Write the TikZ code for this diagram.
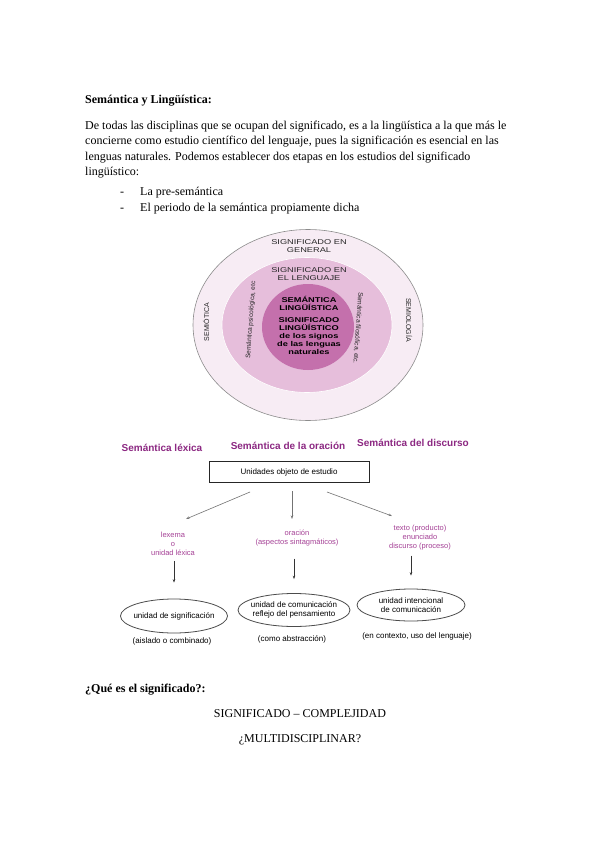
\documentclass[tikz,border=0pt]{standalone}
\usepackage{fontspec}
\setmainfont{Liberation Serif}
\setsansfont{Liberation Sans}
\newfontfamily\ringfont[FakeStretch=1.32]{Liberation Sans}
\usetikzlibrary{arrows.meta, positioning, shapes.geometric}

\definecolor{ringout}{RGB}{247,236,244}
\definecolor{ringmid}{RGB}{230,190,219}
\definecolor{ringin}{RGB}{196,112,172}
\definecolor{semhead}{RGB}{140,40,130}
\definecolor{unitcol}{RGB}{165,65,150}

\begin{document}
\begin{tikzpicture}[x=1pt, y=-1pt,
    body/.style={anchor=base west, inner sep=0pt, font=\fontsize{12}{14}\selectfont},
    centred/.style={anchor=base, inner sep=0pt, font=\fontsize{12}{14}\selectfont},
    ring/.style={ellipse, inner sep=0pt},
    ringtxt/.style={font=\ringfont\fontsize{7}{8}\selectfont, align=center, inner sep=0pt, text=black!85},
    sidetxt/.style={font=\sffamily\fontsize{7}{8}\selectfont, inner sep=0pt, text=black!85},
    coretxt/.style={font=\ringfont\bfseries\fontsize{7}{7.9}\selectfont, align=center, inner sep=0pt},
    head/.style={font=\sffamily\bfseries\fontsize{10}{12}\selectfont, text=semhead, inner sep=0pt},
    unit/.style={font=\sffamily\fontsize{7.5}{9}\selectfont, text=unitcol, align=center, inner sep=0pt},
    cell/.style={ellipse, draw=black!70, line width=0.8pt, fill=white, inner sep=0pt},
    celltxt/.style={font=\sffamily\fontsize{8}{9.5}\selectfont, align=center, inner sep=0pt},
    note/.style={font=\sffamily\fontsize{8}{9}\selectfont, inner sep=0pt},
    slant/.style={-{Stealth[length=3.5pt, width=2.5pt]}, draw=black!55, line width=0.6pt},
    down/.style={-{Stealth[length=3.5pt, width=2.5pt]}, draw=black!80, line width=0.5pt}
]
\useasboundingbox (0,0) rectangle (599,848);
\fill[white] (0,0) rectangle (599,848);

% text above
\node[body, font=\bfseries\fontsize{12}{14}\selectfont] (title) at (85,104) {Semántica y Lingüística:};
\node[body] (p1) at (85,129) {De todas las disciplinas que se ocupan del significado, es a la lingüística a la que más le};
\node[body] (p2) at (85,144.5) {concierne como estudio científico del lenguaje, pues la significación es esencial en las};
\node[body] (p3) at (85,160) {lenguas naturales. Podemos establecer dos etapas en los estudios del significado};
\node[body] (p4) at (85,175.5) {lingüístico:};
\node[body] (d1) at (120,195) {-};
\node[body] (b1) at (140,195) {La pre-semántica};
\node[body] (d2) at (120,211) {-};
\node[body] (b2) at (140,211) {El periodo de la semántica propiamente dicha};

% rings
\node[ring, fill=ringout, draw=black!45, line width=0.6pt, minimum width=230, minimum height=191] (general) at (308,325) {};
\node[ring, fill=ringmid, draw=white, line width=0.6pt, minimum width=170, minimum height=135] (lenguaje) at (307,325) {};
\node[ring, fill=ringin, minimum width=92, minimum height=86] (nucleo) at (308,327) {};

\node[ringtxt] (tgen) at (309,246) {SIGNIFICADO EN\\GENERAL};
\node[ringtxt] (tlen) at (309,274) {SIGNIFICADO EN\\EL LENGUAJE};
\node[coretxt] (tsem) at (309,303.5) {SEMÁNTICA\\LINGÜÍSTICA};
\node[coretxt] (tsig) at (309,336) {SIGNIFICADO\\LINGÜÍSTICO\\de los signos\\de las lenguas\\naturales};
\node[sidetxt, rotate=90] (tsemio) at (206,322) {SEMIÓTICA};
\node[sidetxt, rotate=-90] (tsemiol) at (409,320) {SEMIOLOGÍA};
\node[sidetxt, font=\sffamily\fontsize{6.5}{8}\selectfont, rotate=86] (tpsi) at (251,320) {Semántica psicológica, etc};
\node[sidetxt, font=\sffamily\fontsize{6.5}{8}\selectfont, rotate=-94] (tfil) at (358,328) {Semántica filosófica, etc.};

% levels
\node[head] (lex) at (162,448) {Semántica léxica};
\node[head] (ora) at (288,445.5) {Semántica de la oración};
\node[head] (dis) at (413,443) {Semántica del discurso};

\node[draw=black!85, line width=1pt, minimum width=160, minimum height=21, inner sep=0pt,
    font=\sffamily\fontsize{8}{9}\selectfont] (units) at (289,472) {Unidades objeto de estudio};

\node[unit] (ulex) at (173,544) {lexema\\o\\unidad léxica};
\node[unit] (uora) at (297,538.5) {oración\\(aspectos sintagmáticos)};
\node[unit] (udis) at (420,538) {texto (producto)\\enunciado\\discurso (proceso)};

\coordinate (s1) at (250,492);
\coordinate (t1) at (186,519);
\coordinate (s2) at (292,491);
\coordinate (t2) at (292,519);
\coordinate (s3) at (327,492);
\coordinate (t3) at (392,516);
\draw[slant] (s1) -- (t1);
\draw[slant] (s2) -- (t2);
\draw[slant] (s3) -- (t3);

\node[cell, minimum width=107, minimum height=34] (clex) at (174,616) {};
\node[cell, minimum width=112, minimum height=33] (cora) at (294,610) {};
\node[cell, minimum width=108, minimum height=32] (cdis) at (411,605) {};
\node[celltxt] (clex-t) at (clex) {unidad de significación};
\node[celltxt] (cora-t) at (cora) {unidad de comunicación\\reflejo del pensamiento};
\node[celltxt] (cdis-t) at (cdis) {unidad intencional\\de comunicación};

\draw[down, shorten <=5pt, shorten >=16pt] (ulex.south -| clex.north) -- (clex.north);
\draw[down, shorten <=12pt, shorten >=14pt] (uora.south -| cora.north) -- (cora.north);
\draw[down, shorten <=5pt, shorten >=13pt] (udis.south -| cdis.north) -- (cdis.north);

\node[note] (nlex) at (172,641) {(aislado o combinado)};
\node[note] (nora) at (292,639) {(como abstracción)};
\node[note] (ndis) at (417,636) {(en contexto, uso del lenguaje)};

% text below
\node[body, font=\bfseries\fontsize{12}{14}\selectfont] (q) at (85,692) {¿Qué es el significado?:};
\node[centred] (c1) at (300,717) {SIGNIFICADO – COMPLEJIDAD};
\node[centred] (c2) at (300,742) {¿MULTIDISCIPLINAR?};

\end{tikzpicture}
\end{document}
